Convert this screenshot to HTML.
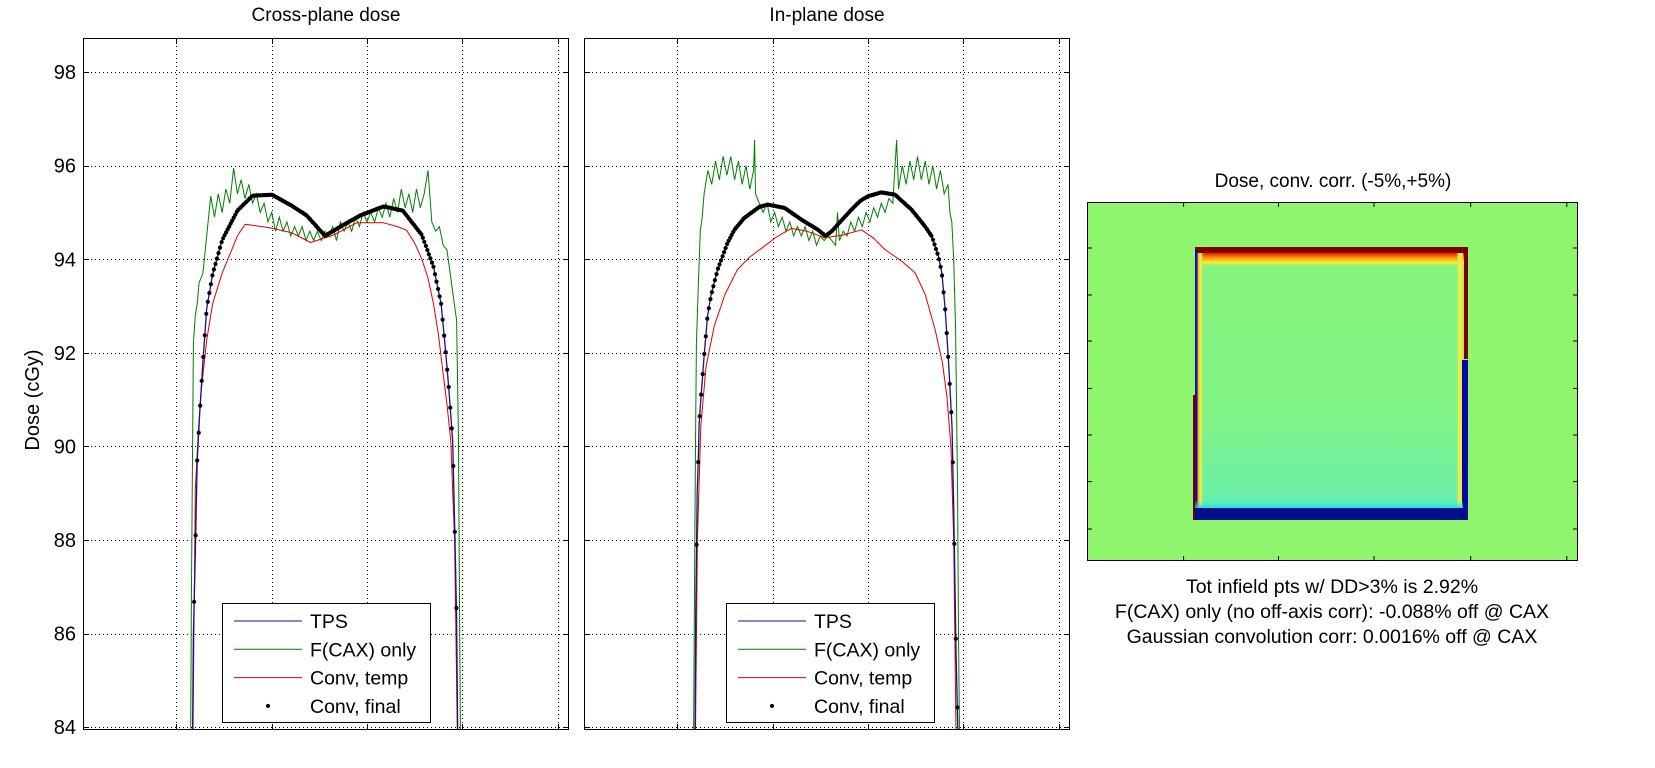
<!DOCTYPE html>
<html><head><meta charset="utf-8">
<style>
html,body{margin:0;padding:0;background:#fff;}
svg{display:block;font-family:"Liberation Sans",Arial,sans-serif;}
</style></head>
<body>
<svg id="fig" width="1655" height="768" viewBox="0 0 1655 768" xmlns="http://www.w3.org/2000/svg">
<defs>
  <linearGradient id="fieldGrad" x1="0" y1="0" x2="0" y2="1">
    <stop offset="0" stop-color="#86f47c"/>
    <stop offset="0.6" stop-color="#80f484"/>
    <stop offset="0.88" stop-color="#6ef0a4"/>
    <stop offset="1" stop-color="#5cecc0"/>
  </linearGradient>
  <linearGradient id="topGrad" x1="0" y1="0" x2="0" y2="1">
    <stop offset="0" stop-color="#e81800"/>
    <stop offset="0.35" stop-color="#ff9a00"/>
    <stop offset="0.7" stop-color="#f4f040"/>
    <stop offset="1" stop-color="#88f47c" stop-opacity="0"/>
  </linearGradient>
  <linearGradient id="leftGrad" x1="0" y1="0" x2="1" y2="0">
    <stop offset="0" stop-color="#ff8a00"/>
    <stop offset="0.5" stop-color="#f8f040"/>
    <stop offset="1" stop-color="#88f47c" stop-opacity="0"/>
  </linearGradient>
  <linearGradient id="rightGrad" x1="1" y1="0" x2="0" y2="0">
    <stop offset="0" stop-color="#f8e030"/>
    <stop offset="0.6" stop-color="#e8f050"/>
    <stop offset="1" stop-color="#88f47c" stop-opacity="0"/>
  </linearGradient>
  <linearGradient id="botGrad" x1="0" y1="0" x2="0" y2="1">
    <stop offset="0" stop-color="#60eec0" stop-opacity="0"/>
    <stop offset="1" stop-color="#00d8ff"/>
  </linearGradient>
  <clipPath id="clip1"><rect x="83" y="38" width="486" height="692"/></clipPath>
  <clipPath id="clip2"><rect x="584" y="38" width="486" height="692"/></clipPath>
</defs>
<g id="plots"></g>
<g id="heatmap">
  <rect x="1087" y="202" width="491" height="359" fill="#8ff56c"/>
  <rect x="1195" y="247" width="272" height="273" fill="url(#fieldGrad)"/>
  <rect x="1195" y="253" width="272" height="14" fill="url(#topGrad)"/>
  <rect x="1195" y="247" width="272" height="6" fill="#820000"/>
  <rect x="1197" y="253" width="7" height="262" fill="url(#leftGrad)"/>
  <rect x="1195" y="250" width="2.5" height="268" fill="#0010c0"/>
  <rect x="1193" y="395" width="2.5" height="125" fill="#700000"/>
  <rect x="1456" y="253" width="7" height="255" fill="url(#rightGrad)"/>
  <rect x="1464" y="247" width="4" height="112" fill="#7a0000"/>
  <rect x="1462" y="360" width="6" height="160" fill="#0008a8"/>
  <rect x="1195" y="500" width="268" height="9" fill="url(#botGrad)"/>
  <rect x="1195" y="508" width="273" height="12" fill="#00108c"/>
  <g id="hmTicks" stroke="#000" stroke-width="1"></g>
  <rect x="1087.5" y="202.5" width="490" height="358" fill="none" stroke="#000" stroke-width="1"/>
</g>
<text x="1333" y="187" font-size="19" text-anchor="middle">Dose, conv. corr. (-5%,+5%)</text>
<text x="1332" y="593" font-size="19.5" text-anchor="middle">Tot infield pts w/ DD&gt;3% is 2.92%</text>
<text x="1332" y="618" font-size="19.5" text-anchor="middle">F(CAX) only (no off-axis corr): -0.088% off @ CAX</text>
<text x="1332" y="643" font-size="19.5" text-anchor="middle">Gaussian convolution corr: 0.0016% off @ CAX</text>
</svg>
<script>
// ---- data ----
const yTicks = [84, 86, 88, 90, 92, 94, 96, 98];
const xTicks = [-10, -5, 0, 5, 10];
const legendLabels = ["TPS", "F(CAX) only", "Conv, temp", "Conv, final"];

const black1X = [-9.15,-9.11,-9.01,-8.91,-8.77,-8.61,-8.41,-8.1,-7.6,-6.8,-6.0,-4.98,-3.97,-3.17,-2.2,-1.35,-0.34,0.87,1.88,2.88,3.49,3.89,4.09,4.29,4.5,4.62,4.7,4.76];
const black1Y = [83.9,86.0,87.7,89.7,90.74,91.8,92.95,93.68,94.41,95.04,95.36,95.38,95.15,94.94,94.5,94.71,94.94,95.13,95.04,94.52,93.84,93.05,92.2,91.27,90.11,88.0,86.34,83.9];
const red1X = [-9.13,-9.01,-8.85,-8.71,-8.4,-8.1,-7.6,-7.2,-6.8,-6.39,-5.18,-3.97,-2.96,-1.75,-0.54,0.87,1.6,2.08,2.5,2.88,3.2,3.49,3.75,3.99,4.2,4.4,4.6,4.74];
const red1Y = [83.9,89.07,90.3,91.16,92.3,93.05,93.7,94.1,94.5,94.75,94.68,94.57,94.36,94.52,94.78,94.78,94.7,94.62,94.35,94.0,93.6,93.05,92.4,91.58,90.9,90.11,88.0,83.9];
const green1X = [-9.25,-9.21,-9.11,-9.01,-8.91,-8.81,-8.61,-8.41,-8.2,-8.0,-7.8,-7.6,-7.4,-7.2,-7.0,-6.8,-6.6,-6.4,-6.2,-6.0,-5.8,-5.6,-5.4,-5.2,-5.0,-4.8,-4.6,-4.4,-4.2,-4.0,-3.8,-3.6,-3.4,-3.2,-3.0,-2.8,-2.6,-2.4,-2.2,-2.0,-1.8,-1.6,-1.4,-1.2,-1.0,-0.8,-0.6,-0.4,-0.2,0.0,0.2,0.4,0.6,0.8,1.0,1.2,1.4,1.6,1.8,2.0,2.2,2.4,2.6,2.8,3.0,3.2,3.4,3.6,3.8,4.0,4.2,4.4,4.6,4.7,4.8,4.85,4.9];
const green1Y = [83.9,86.8,92.2,92.8,93.05,93.5,93.7,94.5,95.35,94.9,95.4,95.0,95.5,95.2,95.95,95.4,95.7,95.3,95.6,95.2,95.4,95.0,95.2,94.8,95.0,94.6,94.9,94.6,94.8,94.5,94.7,94.5,94.7,94.4,94.6,94.4,94.6,94.4,94.6,94.5,94.7,94.4,94.8,94.6,94.8,94.6,94.9,94.7,95.0,94.8,95.0,94.8,95.1,94.9,95.2,94.9,95.3,95.0,95.5,95.1,95.4,95.0,95.5,95.1,95.4,95.9,94.8,94.6,94.7,94.3,94.2,93.6,93.0,92.7,90.1,87.0,83.9];

const black2X = [-9.07,-9.04,-8.99,-8.96,-8.9,-8.86,-8.77,-8.6,-8.42,-8.25,-7.89,-7.37,-7.01,-6.5,-6.14,-5.7,-5.26,-4.38,-3.5,-2.62,-2.23,-1.9,-1.57,-0.87,-0.4,0.01,0.71,1.42,2.29,3.0,3.35,3.7,3.88,4.05,4.23,4.41,4.5,4.55,4.62,4.72];
const black2Y = [83.9,86.4,87.9,89.0,89.8,90.47,91.0,91.93,92.78,93.2,93.78,94.35,94.63,94.88,94.99,95.12,95.17,95.1,94.85,94.63,94.5,94.6,94.75,95.06,95.25,95.35,95.43,95.38,95.06,94.7,94.49,94.06,93.7,92.93,91.79,90.43,88.7,87.4,85.64,83.9];
const red2X = [-9.05,-8.95,-8.77,-8.5,-8.07,-7.5,-6.85,-6.2,-5.43,-4.8,-4.03,-3.2,-2.27,-1.3,-0.34,0.3,0.89,1.8,2.47,3.0,3.52,3.9,4.14,4.35,4.5,4.62];
const red2Y = [83.9,88.0,90.43,91.7,92.57,93.25,93.78,94.05,94.28,94.48,94.66,94.6,94.46,94.52,94.63,94.45,94.21,93.95,93.71,93.25,92.5,91.8,91.07,90.0,88.0,83.9];
const green2X = [-9.15,-9.1,-9.05,-9.0,-8.9,-8.8,-8.7,-8.6,-8.4,-8.2,-8.0,-7.8,-7.6,-7.4,-7.2,-7.0,-6.8,-6.6,-6.4,-6.2,-6.0,-5.95,-5.9,-5.7,-5.5,-5.3,-5.1,-4.9,-4.7,-4.5,-4.3,-4.1,-3.9,-3.7,-3.5,-3.3,-3.1,-2.9,-2.7,-2.5,-2.3,-2.1,-1.9,-1.7,-1.6,-1.5,-1.3,-1.1,-0.9,-0.7,-0.5,-0.3,-0.1,0.1,0.3,0.5,0.7,0.9,1.1,1.3,1.5,1.6,1.8,2.0,2.2,2.4,2.6,2.8,3.0,3.2,3.4,3.6,3.8,4.0,4.2,4.3,4.4,4.5,4.6,4.7,4.75,4.8];
const green2Y = [83.9,87.0,90.0,92.2,93.5,94.6,94.9,95.4,95.9,95.6,96.1,95.7,96.2,95.8,96.2,95.7,96.1,95.6,96.0,95.5,95.9,96.55,95.4,95.2,95.0,95.2,94.8,95.0,94.7,94.9,94.6,94.8,94.5,94.7,94.5,94.7,94.4,94.6,94.3,94.5,94.4,94.5,94.4,94.3,95.0,94.4,94.6,94.5,94.8,94.6,94.9,94.7,95.0,94.8,95.1,94.9,95.2,95.0,95.3,95.2,96.55,95.5,96.0,95.6,96.1,95.7,96.2,95.7,96.1,95.6,96.0,95.5,95.9,95.4,95.6,95.0,94.8,94.0,92.5,89.0,86.0,83.9];

const hmXTicks = [1183.6, 1278.5, 1374, 1470.7, 1566.8];
const hmYTicks = [248, 295, 341, 388.5, 435, 481.6, 529];

// ---- drawing ----
const NS = "http://www.w3.org/2000/svg";
const XMIN = -14.9, XMAX = 10.6, YMIN = 83.94, YMAX = 98.73;
function mk(tag, attrs, parent) {
  const e = document.createElementNS(NS, tag);
  for (const k in attrs) e.setAttribute(k, attrs[k]);
  parent.appendChild(e);
  return e;
}
function interp(xs, ys, x) {
  for (let i = 0; i < xs.length - 1; i++) {
    if (x >= xs[i] && x <= xs[i+1]) {
      const t = (x - xs[i]) / (xs[i+1] - xs[i]);
      return ys[i] + t * (ys[i+1] - ys[i]);
    }
  }
  return null;
}
const root = document.getElementById("plots");

function drawPlot(idx, left, title, bX, bY, rX, rY, gX, gY, legendLeft) {
  const top = 38, W = 486, H = 692;
  const sx = v => left + (v - XMIN) / (XMAX - XMIN) * W;
  const sy = v => top + (YMAX - v) / (YMAX - YMIN) * H;
  const g = mk("g", {}, root);
  
  

  const grid = mk("g", {stroke: "#000", "stroke-width": 1, "stroke-dasharray": "1,3"}, g);
  
  
  yTicks.forEach(t => {
    const y = Math.round(sy(t)) + 0.5;
    const l = mk("line", {x1: left, x2: left + W, y1: y, y2: y}, grid);
    
    
  });
  xTicks.forEach(t => {
    const x = Math.round(sx(t)) + 0.5;
    const l = mk("line", {x1: x, x2: x, y1: top, y2: top + H}, grid);
    
    
  });

  const cg = mk("g", {"clip-path": "url(#clip" + idx + ")"}, g);
  const path = (xs, ys) => xs.map((x, i) => (i ? "L" : "M") + sx(x).toFixed(1) + "," + sy(ys[i]).toFixed(1)).join("");
  const gl = mk("path", {d: path(gX, gY), fill: "none", stroke: "#007f00", "stroke-width": 1}, cg);
  
  
  const rl = mk("path", {d: path(rX, rY), fill: "none", stroke: "#e00000", "stroke-width": 1, "stroke-linejoin": "round"}, cg);
  
  
  const bl = mk("path", {d: path(bX, bY), fill: "none", stroke: "#1a1080", "stroke-width": 1.3}, cg);
  
  
  const mg = mk("g", {fill: "#000"}, cg);
  
  
  const x0 = bX[0], x1 = bX[bX.length - 1];
  for (let k = 0; x0 + k * 0.08 <= x1; k++) {
    const xv = x0 + k * 0.08;
    const yv = interp(bX, bY, xv);
    if (yv === null) continue;
    const c = mk("circle", {cx: sx(xv).toFixed(1), cy: sy(yv).toFixed(1), r: 2.1}, mg);
    
    
  }

  const tk = mk("g", {stroke: "#000", "stroke-width": 1}, g);
  yTicks.forEach(t => {
    const y = Math.round(sy(t)) + 0.5;
    mk("line", {x1: left, x2: left + 6, y1: y, y2: y}, tk);
    mk("line", {x1: left + W - 6, x2: left + W, y1: y, y2: y}, tk);
  });
  xTicks.forEach(t => {
    const x = Math.round(sx(t)) + 0.5;
    mk("line", {x1: x, x2: x, y1: top, y2: top + 6}, tk);
    mk("line", {x1: x, x2: x, y1: top + H - 6, y2: top + H}, tk);
  });

  const fr = mk("rect", {x: left + 0.5, y: top + 0.5, width: W - 1, height: H - 1, fill: "none", stroke: "#000", "stroke-width": 1}, g);
  
  

  if (idx === 1) {
    yTicks.forEach(t => {
      const tx = mk("text", {x: 76, y: (sy(t) + 7).toFixed(1), "font-size": 20, "text-anchor": "end"}, g);
      tx.textContent = String(t);
      
      
    });
  }

  const tt = mk("text", {x: left + W / 2, y: 21, "font-size": 19, "text-anchor": "middle"}, g);
  tt.textContent = title;
  
  

  const lg = mk("g", {}, g);
  
  
  const LT = 603;
  mk("rect", {x: legendLeft + 0.5, y: LT + 0.5, width: 208, height: 119, fill: "#fff", stroke: "#000", "stroke-width": 1}, lg);
  const cols = ["#1a1080", "#007f00", "#e00000", null];
  legendLabels.forEach((lab, i) => {
    const cy = LT + 18 + i * 28.3;
    if (cols[i]) {
      mk("line", {x1: legendLeft + 12, x2: legendLeft + 80, y1: cy, y2: cy, stroke: cols[i], "stroke-width": 1}, lg);
    } else {
      mk("circle", {cx: legendLeft + 46, cy: cy, r: 2}, lg);
    }
    const tx = mk("text", {x: legendLeft + 88, y: cy + 7, "font-size": 19.5}, lg);
    tx.textContent = lab;
    
    
  });
}

drawPlot(1, 83, "Cross-plane dose", black1X, black1Y, red1X, red1Y, green1X, green1Y, 222);
drawPlot(2, 584, "In-plane dose", black2X, black2Y, red2X, red2Y, green2X, green2Y, 726);

const yl = mk("text", {x: 0, y: 0, "font-size": 20, "text-anchor": "middle", transform: "translate(39,400) rotate(-90)"}, root);
yl.textContent = "Dose (cGy)";



const ht = document.getElementById("hmTicks");
hmXTicks.forEach(x => {
  mk("line", {x1: x, x2: x, y1: 202, y2: 207}, ht);
  mk("line", {x1: x, x2: x, y1: 556, y2: 561}, ht);
});
hmYTicks.forEach(y => {
  mk("line", {x1: 1087, x2: 1092, y1: y, y2: y}, ht);
  mk("line", {x1: 1573, x2: 1578, y1: y, y2: y}, ht);
});
</script>
</body></html>
